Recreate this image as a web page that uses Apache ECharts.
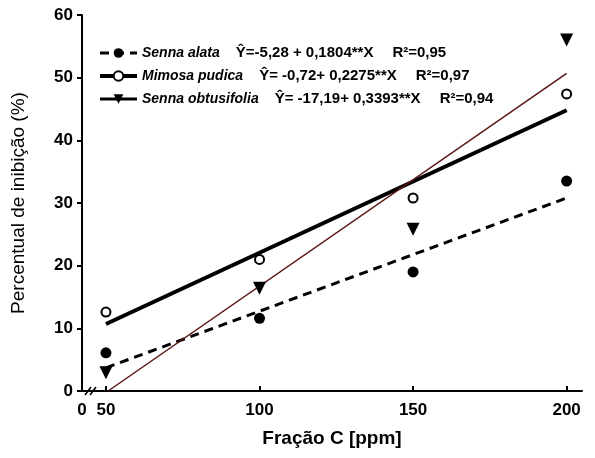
<!DOCTYPE html>
<html>
<head>
<meta charset="utf-8" />
<script src="https://cdn.jsdelivr.net/npm/echarts@6/dist/echarts.min.js"></script>
<title>inibicao</title>
</head>
<body style="margin:0">
<div id="main" style="width:595px;height:458px;"></div>
<script>
// doses (ppm)
var doses = [50, 100, 150, 200];
// observed points
var alataPts = [6.1, 11.6, 19.0, 33.5];
var mimosaPts = [12.6, 21.0, 30.8, 47.4];
var obtusPts = [2.9, 16.4, 25.8, 56.0];
// fitted lines (ends)
var alataFit = [[50, 3.7], [200, 30.8]];
var mimosaFit = [[50, 10.7], [200, 44.8]];
var obtusFit = [[50.7, 0], [200, 50.7]];

var names = ['Senna alata', 'Mimosa pudica', 'Senna obtusifolia'];
var equations = ['Ŷ=-5,28 + 0,1804**X', 'Ŷ= -0,72+ 0,2275**X', 'Ŷ= -17,19+ 0,3393**X'];
var r2 = ['R²=0,95', 'R²=0,97', 'R²=0,94'];
var xTickVals = [50, 100, 150, 200];
var xLabelVals = [42.2, 50, 100, 150, 200]; // first one is the "0" before the break

var font = 'Liberation Sans';
var darkRed = '#5a1414';

function pts(ys) {
  return doses.map(function (x, i) { return [x, ys[i]]; });
}

var chart = echarts.init(document.getElementById('main'));
var option = {
  animation: false,
  backgroundColor: '#fff',
  textStyle: { fontFamily: font },
  grid: { left: 82, right: 13, top: 15, bottom: 67 },
  legend: {
    orient: 'vertical',
    left: 93,
    top: 39,
    itemWidth: 37,
    itemHeight: 12,
    itemGap: 5,
    lineStyle: { width: 3 },
    data: [
      { name: names[0] },
      { name: names[1], lineStyle: { width: 4 } },
      { name: names[2], lineStyle: { color: '#000' } }
    ],
    formatter: function (n) {
      var i = names.indexOf(n);
      return '{sp|' + n + '}{eq|' + equations[i] + '}{r|' + r2[i] + '}';
    },
    textStyle: {
      rich: {
        sp: { fontFamily: font, fontSize: 14, fontStyle: 'italic', fontWeight: 'bold', color: '#000', height: 18, lineHeight: 18, verticalAlign: 'bottom', padding: [0, 16, 0, 0] },
        eq: { fontFamily: font, fontSize: 15, fontWeight: 'bold', color: '#000', height: 18, lineHeight: 18, verticalAlign: 'bottom', padding: [0, 19, 0, 0] },
        r: { fontFamily: font, fontSize: 15, fontWeight: 'bold', color: '#000', height: 18, lineHeight: 18, verticalAlign: 'bottom' }
      }
    }
  },
  xAxis: {
    type: 'value',
    min: 42.2,
    max: 205,
    name: 'Fração C [ppm]',
    nameLocation: 'middle',
    nameGap: 38,
    nameTextStyle: { fontFamily: font, fontSize: 19, fontWeight: 'bold', color: '#000' },
    splitLine: { show: false },
    axisLine: { lineStyle: { color: '#000', width: 2 } },
    axisTick: { inside: true, length: 5, lineStyle: { color: '#000', width: 2 }, customValues: xTickVals },
    axisLabel: {
      customValues: xLabelVals,
      margin: 11,
      fontFamily: font, fontSize: 17, fontWeight: 'bold', color: '#000',
      formatter: function (v) { return v < 50 ? '0' : String(v); }
    }
  },
  yAxis: {
    type: 'value',
    min: 0,
    max: 60,
    interval: 10,
    name: 'Percentual de inibição (%)',
    nameLocation: 'middle',
    nameGap: 54,
    nameTextStyle: { fontFamily: font, fontSize: 19, color: '#000' },
    splitLine: { show: false },
    axisLine: { show: true, lineStyle: { color: '#000', width: 2 } },
    axisTick: { show: true, length: 5, lineStyle: { color: '#000', width: 2 } },
    axisLabel: { margin: 9, fontFamily: font, fontSize: 17, fontWeight: 'bold', color: '#000' }
  },
  series: [
    {
      name: names[0], type: 'line', data: alataFit, showSymbol: false,
      symbol: 'circle', symbolSize: 10,
      itemStyle: { color: '#000' },
      lineStyle: { color: '#000', width: 3, type: [9, 6] }
    },
    {
      name: names[1], type: 'line', data: mimosaFit, showSymbol: false,
      symbol: 'circle', symbolSize: 8,
      itemStyle: { color: '#fff', borderColor: '#000', borderWidth: 2 },
      lineStyle: { color: '#000', width: 4 }
    },
    {
      name: names[2], type: 'line', data: obtusFit, showSymbol: false,
      symbol: 'triangle', symbolRotate: 180, symbolSize: 12,
      itemStyle: { color: '#000' },
      lineStyle: { color: darkRed, width: 1.5 }
    },
    {
      type: 'scatter', data: pts(alataPts), symbol: 'circle', symbolSize: 11,
      itemStyle: { color: '#000', opacity: 1 }, z: 5
    },
    {
      type: 'scatter', data: pts(mimosaPts), symbol: 'circle', symbolSize: 9,
      itemStyle: { color: '#fff', borderColor: '#000', borderWidth: 2, opacity: 1 }, z: 5
    },
    {
      type: 'scatter', data: pts(obtusPts), symbol: 'triangle', symbolRotate: 180, symbolSize: 13,
      itemStyle: { color: '#000', opacity: 1 }, z: 5
    }
  ],
  graphic: [
    { type: 'line', shape: { x1: 85, y1: 395, x2: 91, y2: 387 }, style: { stroke: '#000', lineWidth: 1.5 } },
    { type: 'line', shape: { x1: 90, y1: 395, x2: 96, y2: 387 }, style: { stroke: '#000', lineWidth: 1.5 } }
  ]
};
chart.setOption(option);
</script>
</body>
</html>
